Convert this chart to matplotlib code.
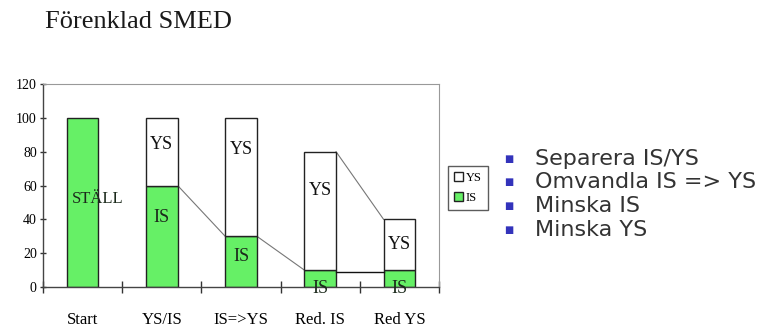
import numpy as np
import matplotlib
matplotlib.use("Agg")
from matplotlib import pyplot as plt
from matplotlib.patches import Patch

# Förenklad SMED - stacked bars, IS (intern ställtid) + YS (extern ställtid)
categories = ["Start", "YS/IS", "IS=>YS", "Red. IS", "Red YS"]
is_vals = [100, 60, 30, 10, 10]
ys_vals = [0, 40, 70, 70, 30]
is_labels = ["STÄLL", "IS", "IS", "IS", "IS"]
is_label_y = [52, 41, 18, -1, -1]
ys_labels = ["", "YS", "YS", "YS", "YS"]
ys_label_y = [0, 84, 81, 57, 25]
bullets = ["Separera IS/YS", "Omvandla IS => YS", "Minska IS", "Minska YS"]

green = "#66f066"
serif = "Liberation Serif"

fig = plt.figure(figsize=(7.78, 3.32), dpi=100)
fig.patch.set_facecolor("white")
ax = fig.add_axes([0.0553, 0.1355, 0.509, 0.6114])

x = np.arange(len(categories)) + 0.5
w = 0.4
is_arr = np.array(is_vals)
ys_arr = np.array(ys_vals)
ax.bar(x, is_arr, w, color=green, edgecolor="#222222", linewidth=1.0, zorder=2)
ax.bar(x[1:], ys_arr[1:], w, bottom=is_arr[1:], color="white", edgecolor="#222222", linewidth=1.0, zorder=2)

# connector lines between the bars
ax.plot([x[1] + w / 2, x[2] - w / 2], [is_arr[1], is_arr[2]], color="#777777", lw=0.8, zorder=1)
ax.plot([x[2] + w / 2, x[3] - w / 2], [is_arr[2], is_arr[3]], color="#777777", lw=0.8, zorder=1)
ax.plot([x[3] + w / 2, x[4] - w / 2], [is_arr[3] + ys_arr[3], is_arr[4] + ys_arr[4]], color="#777777", lw=0.8, zorder=1)
ax.plot([x[3] + w / 2, x[4] - w / 2], [is_arr[3] - 1, is_arr[4] - 1], color="#111111", lw=1.0, zorder=3)

for i in range(len(categories)):
    if is_labels[i] == "STÄLL":
        ax.text(x[i] - 0.13, is_label_y[i], is_labels[i], ha="left", va="center",
                fontsize=12, family=serif, color="#1c2a1c", zorder=4)
    else:
        ax.text(x[i], is_label_y[i], is_labels[i], ha="center", va="center",
                fontsize=13, family=serif, color="#1c2a1c", zorder=4)
    if ys_labels[i]:
        ax.text(x[i], ys_label_y[i], ys_labels[i], ha="center", va="center",
                fontsize=13, family=serif, color="#111111", zorder=4)

ax.set_xlim(0, 5)
ax.set_ylim(0, 120)
ax.set_yticks(np.arange(0, 121, 20))
ax.set_xticks(np.arange(0, 6))
ax.set_xticklabels([])
ax.set_xticks(x, minor=True)
ax.set_xticklabels(categories, minor=True, family=serif, fontsize=12)
ax.tick_params(axis="x", which="minor", length=0, pad=18)
ax.tick_params(axis="x", which="major", direction="inout", length=9, width=1.0, color="#333333")
ax.tick_params(axis="y", direction="inout", length=5, width=1.0, color="#333333", pad=2)
for lab in ax.get_yticklabels():
    lab.set_family(serif)
    lab.set_fontsize(10)
for side in ["top", "right"]:
    ax.spines[side].set_color("#999999")
    ax.spines[side].set_linewidth(0.8)
for side in ["left", "bottom"]:
    ax.spines[side].set_color("#444444")
    ax.spines[side].set_linewidth(1.0)

handles = [Patch(facecolor="white", edgecolor="#222222", label="YS"),
           Patch(facecolor=green, edgecolor="#222222", label="IS")]
fig.legend(handles=handles, loc="center left", bbox_to_anchor=(0.576, 0.434),
           prop={"family": serif, "size": 9}, frameon=True, fancybox=False,
           edgecolor="#333333", handlelength=0.7, handleheight=0.7,
           handletextpad=0.2, borderpad=0.5, labelspacing=0.6, borderaxespad=0)

fig.text(45 / 778, 1 - 22 / 332, "Förenklad SMED", family=serif, fontsize=19,
         ha="left", va="center", color="#1a1a1a")

bullet_y = [159, 182, 206, 230]
for i, b in enumerate(bullets):
    yy = 1 - bullet_y[i] / 332
    fig.text(509 / 778, yy, "■", fontsize=7, color="#3333bb", ha="center", va="center")
    fig.text(535 / 778, yy, b, fontsize=16, color="#333333", ha="left", va="center",
             family="DejaVu Sans")

fig.savefig("out.png", dpi=100)
